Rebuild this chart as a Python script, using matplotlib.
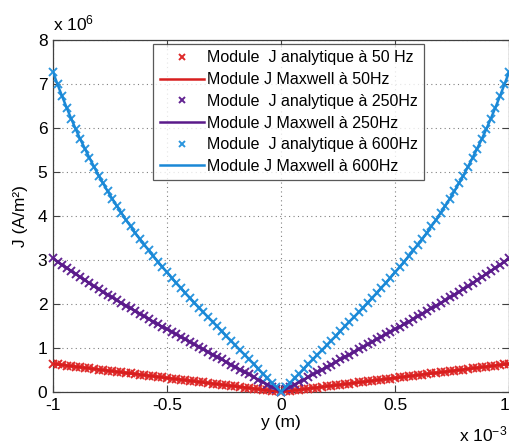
import numpy as np
import matplotlib
matplotlib.use("Agg")
import matplotlib.pyplot as plt

plt.rcParams['font.family'] = ['Liberation Sans', 'DejaVu Sans']
plt.rcParams['mathtext.fontset'] = 'custom'
plt.rcParams['mathtext.rm'] = 'Liberation Sans'
plt.rcParams['mathtext.it'] = 'Liberation Sans'

# sample positions (in units of 1e-3 m)
y_mm = np.linspace(-1.0, 1.0, 101)

# |J| in units of 1e6 A/m^2
J_50 = [0.640, 0.627, 0.614, 0.601, 0.588, 0.575, 0.563, 0.550, 0.537, 0.524,
        0.511, 0.498, 0.486, 0.473, 0.460, 0.447, 0.434, 0.421, 0.409, 0.396,
        0.383, 0.370, 0.358, 0.345, 0.332, 0.319, 0.306, 0.294, 0.281, 0.268,
        0.255, 0.243, 0.230, 0.217, 0.204, 0.191, 0.179, 0.166, 0.153, 0.140,
        0.128, 0.115, 0.102, 0.089, 0.077, 0.064, 0.051, 0.038, 0.026, 0.013,
        0.000,
        0.013, 0.026, 0.038, 0.051, 0.064, 0.077, 0.089, 0.102, 0.115, 0.128,
        0.140, 0.153, 0.166, 0.179, 0.191, 0.204, 0.217, 0.230, 0.243, 0.255,
        0.268, 0.281, 0.294, 0.306, 0.319, 0.332, 0.345, 0.358, 0.370, 0.383,
        0.396, 0.409, 0.421, 0.434, 0.447, 0.460, 0.473, 0.486, 0.498, 0.511,
        0.524, 0.537, 0.550, 0.563, 0.575, 0.588, 0.601, 0.614, 0.627, 0.640]

J_250 = [3.04, 2.96, 2.89, 2.82, 2.75, 2.68, 2.61, 2.54, 2.47, 2.40,
         2.34, 2.27, 2.21, 2.15, 2.08, 2.02, 1.96, 1.90, 1.84, 1.78,
         1.72, 1.66, 1.60, 1.54, 1.48, 1.43, 1.37, 1.31, 1.25, 1.20,
         1.14, 1.08, 1.02, 0.97, 0.91, 0.85, 0.80, 0.74, 0.68, 0.62,
         0.57, 0.51, 0.45, 0.40, 0.34, 0.28, 0.23, 0.17, 0.11, 0.06,
         0.00,
         0.06, 0.11, 0.17, 0.23, 0.28, 0.34, 0.40, 0.45, 0.51, 0.57,
         0.62, 0.68, 0.74, 0.80, 0.85, 0.91, 0.97, 1.02, 1.08, 1.14,
         1.20, 1.25, 1.31, 1.37, 1.43, 1.48, 1.54, 1.60, 1.66, 1.72,
         1.78, 1.84, 1.90, 1.96, 2.02, 2.08, 2.15, 2.21, 2.27, 2.34,
         2.40, 2.47, 2.54, 2.61, 2.68, 2.75, 2.82, 2.89, 2.96, 3.04]

J_600 = [7.27, 6.99, 6.72, 6.46, 6.21, 5.97, 5.74, 5.53, 5.32, 5.12,
         4.92, 4.74, 4.56, 4.39, 4.23, 4.07, 3.91, 3.77, 3.62, 3.48,
         3.35, 3.22, 3.09, 2.96, 2.84, 2.72, 2.60, 2.48, 2.37, 2.25,
         2.14, 2.03, 1.92, 1.81, 1.70, 1.60, 1.49, 1.38, 1.27, 1.17,
         1.06, 0.95, 0.85, 0.74, 0.64, 0.53, 0.42, 0.32, 0.21, 0.11,
         0.00,
         0.11, 0.21, 0.32, 0.42, 0.53, 0.64, 0.74, 0.85, 0.95, 1.06,
         1.17, 1.27, 1.38, 1.49, 1.60, 1.70, 1.81, 1.92, 2.03, 2.14,
         2.25, 2.37, 2.48, 2.60, 2.72, 2.84, 2.96, 3.09, 3.22, 3.35,
         3.48, 3.62, 3.77, 3.91, 4.07, 4.23, 4.39, 4.56, 4.74, 4.92,
         5.12, 5.32, 5.53, 5.74, 5.97, 6.21, 6.46, 6.72, 6.99, 7.27]

labels_analytic = ["Module  J analytique à 50 Hz", "Module  J analytique à 250Hz",
                   "Module  J analytique à 600Hz"]
labels_maxwell = ["Module J Maxwell à 50Hz", "Module J Maxwell à 250Hz",
                  "Module J Maxwell à 600Hz"]
colors_marker = ['#DE2A2A', '#632592', '#2C96DE']
colors_line = ['#D81E1E', '#5A1A8A', '#1A88D6']

xticks = [-1, -0.5, 0, 0.5, 1]
xticklabels = ['-1', '-0.5', '0', '0.5', '1']
yticks = [0, 1, 2, 3, 4, 5, 6, 7, 8]
yticklabels = ['0', '1', '2', '3', '4', '5', '6', '7', '8']

fig = plt.figure(figsize=(5.10, 4.46), dpi=100)
ax = fig.add_axes([53/510, 54/446, 456/510, 352/446])

series = [J_50, J_250, J_600]
for i, J in enumerate(series):
    ax.plot(y_mm, J, linestyle='none', marker='x', markersize=5.5,
            markeredgewidth=1.4, color=colors_marker[i], label=labels_analytic[i],
            zorder=3, clip_on=False)
    ax.plot(y_mm, J, linestyle='-', linewidth=1.8, color=colors_line[i],
            label=labels_maxwell[i], zorder=4)

ax.set_xlim(-1, 1)
ax.set_ylim(0, 8)
ax.set_xticks(xticks)
ax.set_xticklabels(xticklabels)
ax.set_yticks(yticks)
ax.set_yticklabels(yticklabels)
ax.tick_params(direction='in', top=True, right=True, length=5, width=0.8,
               labelsize=12.5, colors='#404040', labelcolor='black', pad=4)
ax.get_xticklabels()[-1].set_horizontalalignment('right')
for s in ax.spines.values():
    s.set_color('#404040')
    s.set_linewidth(0.9)
ax.grid(True, linestyle=(0, (1, 3)), color='#808080', linewidth=0.8)
ax.set_axisbelow(True)

ax.set_xlabel('y (m)', fontsize=12.5, labelpad=2)
ax.set_ylabel('J (A/m²)', fontsize=12.5, labelpad=7)

fig.text(53/510, 1 - 30/446, r'x 10$^{\mathrm{6}}$', fontsize=12.5, ha='left', va='baseline')
fig.text(507/510, 1 - 441/446, r'x 10$^{\mathrm{-3}}$', fontsize=12.5, ha='right', va='baseline')

leg = ax.legend(loc='upper right', bbox_to_anchor=(424/510, 1 - 44/446),
                bbox_transform=fig.transFigure, borderaxespad=0, fontsize=11.5,
                frameon=True, fancybox=False, handlelength=2.75, handletextpad=0.2,
                labelspacing=0.42, borderpad=0.4, markerscale=0.9)
leg.get_frame().set_edgecolor('#303030')
leg.get_frame().set_linewidth(0.9)

fig.savefig('out.png', dpi=100)
